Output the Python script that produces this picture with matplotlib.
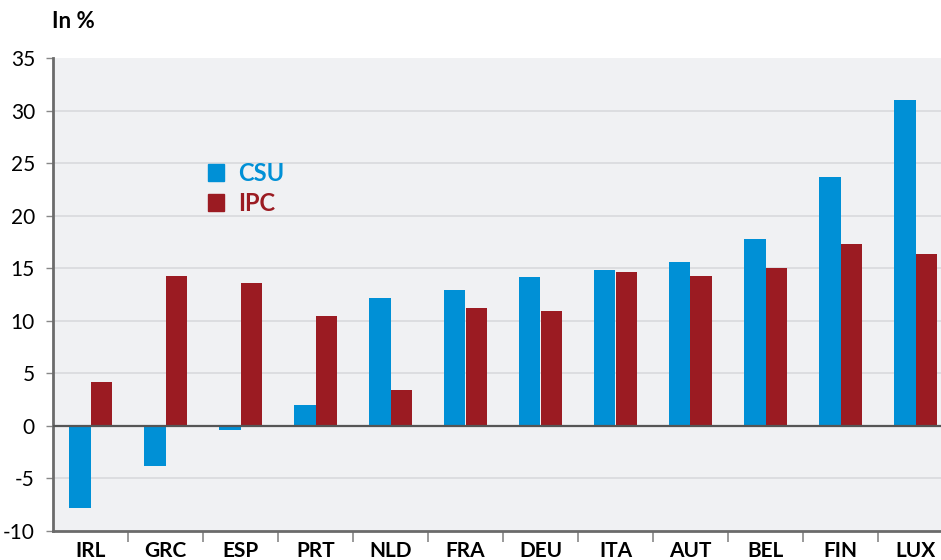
import matplotlib
matplotlib.use("Agg")
import matplotlib.pyplot as plt
import matplotlib.patches as mpatches
import numpy as np

plt.rcParams['font.family'] = ['Lato', 'DejaVu Sans']

countries = ["IRL", "GRC", "ESP", "PRT", "NLD", "FRA", "DEU", "ITA", "AUT", "BEL", "FIN", "LUX"]
csu = [-7.8, -3.8, -0.4, 2.0, 12.2, 12.9, 14.2, 14.8, 15.6, 17.8, 23.7, 31.0]
ipc = [4.2, 14.3, 13.6, 10.5, 3.4, 11.2, 10.9, 14.6, 14.3, 15.0, 17.3, 16.4]
yticks = [-10, -5, 0, 5, 10, 15, 20, 25, 30, 35]

blue = "#0090d6"
red = "#9b1b22"

fig = plt.figure(figsize=(9.41, 5.6), dpi=100)
W, H = 941, 560
ax = fig.add_axes([53 / W, 29 / H, (W - 53) / W, (531 - 58) / H])
ax.set_facecolor("#f0f1f3")

x = np.arange(len(countries))
bw = 0.287
ax.bar(x - bw / 2, csu, bw, color=blue, zorder=3)
ax.bar(x + bw / 2, ipc, bw, color=red, zorder=3)

ax.set_ylim(-10, 35)
ax.set_xlim(-0.5, 11.34)
ax.set_yticks(yticks)
ax.set_yticklabels([str(v) for v in yticks], fontsize=15)
for v in yticks:
    if v not in (-10, 35, 0):
        ax.axhline(v, color="#d9dadd", lw=1.2, zorder=1)
ax.axhline(0, color="#555555", lw=1.6, zorder=4)

# category separators below the axis, labels centred in each slot
ax.set_xticks(np.arange(0.5, 11.5, 1.0))
ax.set_xticklabels([])
ax.set_xticks(x, minor=True)
ax.set_xticklabels(countries, minor=True, fontsize=15, fontweight="bold")
ax.tick_params(axis="x", which="major", length=8, width=1.2, color="#888888")
ax.tick_params(axis="x", which="minor", length=0, pad=7)
ax.tick_params(axis="y", length=5, width=1, color="#888888", pad=8)

for s in ["top", "right"]:
    ax.spines[s].set_visible(False)
ax.spines["left"].set_color("#6b6b6b")
ax.spines["left"].set_linewidth(2)
ax.spines["bottom"].set_color("#6b6b6b")
ax.spines["bottom"].set_linewidth(2)

handles = [mpatches.Patch(color=blue, label="CSU"), mpatches.Patch(color=red, label="IPC")]
ax.legend(handles=handles, loc="upper left", bbox_to_anchor=(189 / W, 1 - 143 / H),
          bbox_transform=fig.transFigure, frameon=False,
          labelcolor=[blue, red], handlelength=0.7, handleheight=0.7,
          handletextpad=0.6, labelspacing=0.3, borderpad=0.3,
          prop={"weight": "bold", "size": 17})

fig.text(52 / W, 1 - 21 / H, "In %", fontsize=16, fontweight="bold", va="center", ha="left")

fig.savefig("out.png", dpi=100)
